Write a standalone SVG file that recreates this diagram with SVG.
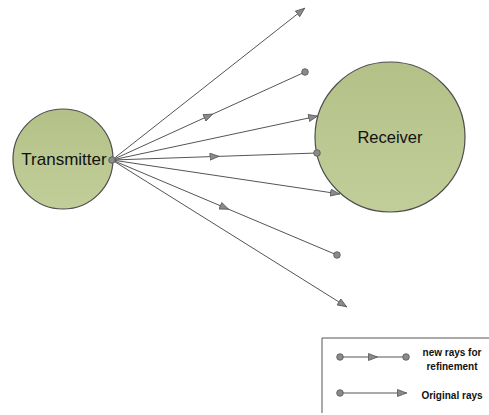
<svg xmlns="http://www.w3.org/2000/svg" width="489" height="415" viewBox="0 0 489 415">
<style>
.node{stroke:#4d4d4d;stroke-width:1.2;fill:url(#g)}
.ray{stroke:#555;stroke-width:1;fill:none}
.dot{fill:#8a8a8a;stroke:#555;stroke-width:0.8}
.lbl{font-family:"Liberation Sans",Arial,sans-serif;font-size:16px;fill:#111}
.leg{font-family:"Liberation Sans",Arial,sans-serif;font-size:10px;font-weight:bold;fill:#111}
</style>
<defs>
<linearGradient id="g" x1="0" y1="0" x2="0" y2="1">
<stop offset="0" stop-color="#b3c188"/>
<stop offset="1" stop-color="#c2ce99"/>
</linearGradient>
<marker id="end" markerUnits="userSpaceOnUse" markerWidth="10" markerHeight="8" refX="10" refY="4" orient="auto" viewBox="0 0 10 8">
<path d="M0.5,0.5 L9.5,4 L0.5,7.5 z" fill="#8a8a8a" stroke="#555" stroke-width="0.8"/>
</marker>
<marker id="mid" markerUnits="userSpaceOnUse" markerWidth="10" markerHeight="8" refX="5" refY="4" orient="auto" viewBox="0 0 10 8">
<path d="M0.5,0.5 L9.5,4 L0.5,7.5 z" fill="#8a8a8a" stroke="#555" stroke-width="0.8"/>
</marker>
</defs>
<g id="transmitter">
<circle class="node" cx="63" cy="159" r="50"/>
<text class="lbl" x="64" y="165" text-anchor="middle" style="font-size:17px">Transmitter</text>
</g>
<g id="receiver">
<circle class="node" cx="390" cy="137" r="75"/>
<text class="lbl" x="390" y="143" text-anchor="middle" style="font-size:16.5px">Receiver</text>
</g>
<g id="connectors">
<path class="ray" d="M112,160 L305,8" marker-end="url(#end)"/>
<path class="ray" d="M112,160 L208.5,116 L305,72" marker-mid="url(#mid)"/>
<path class="ray" d="M112,160 L318,116" marker-end="url(#end)"/>
<path class="ray" d="M112,160 L214.5,156.5 L317,153" marker-mid="url(#mid)"/>
<path class="ray" d="M112,160 L340,194" marker-end="url(#end)"/>
<path class="ray" d="M112,160 L224.5,207.5 L337,255" marker-mid="url(#mid)"/>
<path class="ray" d="M112,160 L347,307" marker-end="url(#end)"/>
<circle class="dot" cx="305" cy="72" r="3.3"/>
<circle class="dot" cx="317" cy="153" r="3.3"/>
<circle class="dot" cx="337" cy="255" r="3.3"/>
<circle class="dot" cx="112" cy="160" r="3.3"/>
</g>
<g id="legend">
<path d="M489,338 L322,338 L322,413" stroke="#555" stroke-width="1" fill="none"/>
<path class="ray" d="M340,357 L373,357 L406,357" marker-mid="url(#mid)"/>
<circle class="dot" cx="340" cy="357" r="3.3"/>
<circle class="dot" cx="406" cy="357" r="3.3"/>
<text class="leg" x="452" y="356" text-anchor="middle">new rays for</text>
<text class="leg" x="452" y="370" text-anchor="middle">refinement</text>
<path class="ray" d="M340,393 L407,393" marker-end="url(#end)"/>
<circle class="dot" cx="340" cy="393" r="3.3"/>
<text class="leg" x="452" y="399" text-anchor="middle">Original rays</text>
</g>
</svg>
